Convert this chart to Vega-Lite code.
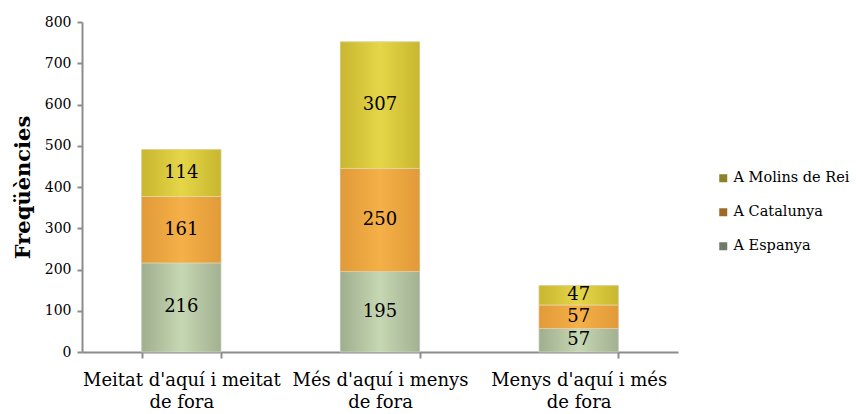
{
  "$schema": "https://vega.github.io/schema/vega-lite/v6.json",
  "width": 596,
  "height": 330,
  "autosize": "none",
  "padding": {"left": 82, "top": 22, "right": 178, "bottom": 62},
  "background": "white",
  "config": {
    "view": {"stroke": null},
    "font": "DejaVu Serif"
  },
  "data": {
    "values": [
      {"cat": "Meitat d'aquí i meitat de fora", "serie": "A Espanya", "v": 216, "ord": 1},
      {"cat": "Meitat d'aquí i meitat de fora", "serie": "A Catalunya", "v": 161, "ord": 2},
      {"cat": "Meitat d'aquí i meitat de fora", "serie": "A Molins de Rei", "v": 114, "ord": 3},
      {"cat": "Més d'aquí i menys de fora", "serie": "A Espanya", "v": 195, "ord": 1},
      {"cat": "Més d'aquí i menys de fora", "serie": "A Catalunya", "v": 250, "ord": 2},
      {"cat": "Més d'aquí i menys de fora", "serie": "A Molins de Rei", "v": 307, "ord": 3},
      {"cat": "Menys d'aquí i més de fora", "serie": "A Espanya", "v": 57, "ord": 1},
      {"cat": "Menys d'aquí i més de fora", "serie": "A Catalunya", "v": 57, "ord": 2},
      {"cat": "Menys d'aquí i més de fora", "serie": "A Molins de Rei", "v": 47, "ord": 3}
    ]
  },
  "transform": [
    {"stack": "v", "groupby": ["cat"], "sort": [{"field": "ord"}], "as": ["y0", "y1"]},
    {"calculate": "(datum.y0 + datum.y1) / 2", "as": "ymid"}
  ],
  "encoding": {
    "x": {
      "field": "cat",
      "type": "nominal",
      "sort": null,
      "scale": {"paddingInner": 0.6, "paddingOuter": 0.3},
      "axis": {
        "title": null,
        "labelAngle": 0,
        "labelLimit": 400,
        "tickBand": "extent",
        "tickSize": 6,
        "tickColor": "#8c8c8c",
        "tickWidth": 2,
        "domainColor": "#8c8c8c",
        "domainWidth": 2,
        "labelFontSize": 18,
        "labelColor": "#000000",
        "labelPadding": 13,
        "labelLineHeight": 22,
        "labelExpr": "split(replace(datum.label, ' de fora', '|de fora'), '|')"
      }
    }
  },
  "layer": [
    {
      "mark": {"type": "bar"},
      "encoding": {
        "y": {
          "field": "y1",
          "type": "quantitative",
          "scale": {"domain": [0, 800]},
          "axis": {
            "title": "Freqüències",
            "titleFontSize": 21,
            "titleFontWeight": "bold",
            "titleColor": "#000000",
            "titlePadding": 11,
            "values": [0, 100, 200, 300, 400, 500, 600, 700, 800],
            "grid": false,
            "tickSize": 5,
            "tickColor": "#8c8c8c",
            "tickWidth": 2,
            "domainColor": "#8c8c8c",
            "domainWidth": 2,
            "labelFontSize": 14,
            "labelColor": "#000000",
            "labelPadding": 6
          }
        },
        "y2": {"field": "y0"},
        "color": {
          "field": "serie",
          "type": "nominal",
          "scale": {
            "domain": ["A Molins de Rei", "A Catalunya", "A Espanya"],
            "range": ["#8c8128", "#9c6a26", "#707b6a"]
          },
          "legend": {
            "title": null,
            "orient": "none",
            "legendX": 634,
            "legendY": 149,
            "symbolType": "square",
            "symbolSize": 64,
            "symbolStrokeWidth": 0,
            "symbolOpacity": 1,
            "labelFontSize": 14.5,
            "labelLimit": 300,
            "labelColor": "#000000",
            "rowPadding": 19,
            "labelOffset": 3
          }
        }
      }
    },
    {
      "transform": [{"filter": "datum.serie == 'A Espanya'"}],
      "mark": {
        "type": "bar",
        "stroke": "#dfe3d8",
        "strokeWidth": 0.6,
        "color": {
          "gradient": "linear", "x1": 0, "y1": 0, "x2": 1, "y2": 0,
          "stops": [
            {"offset": 0, "color": "#9fae8d"},
            {"offset": 0.5, "color": "#c6d7b3"},
            {"offset": 1, "color": "#a2b191"}
          ]
        }
      },
      "encoding": {
        "y": {"field": "y1", "type": "quantitative"},
        "y2": {"field": "y0"}
      }
    },
    {
      "transform": [{"filter": "datum.serie == 'A Catalunya'"}],
      "mark": {
        "type": "bar",
        "stroke": "#e9d8bd",
        "strokeWidth": 0.6,
        "color": {
          "gradient": "linear", "x1": 0, "y1": 0, "x2": 1, "y2": 0,
          "stops": [
            {"offset": 0, "color": "#e19a38"},
            {"offset": 0.5, "color": "#f5b048"},
            {"offset": 1, "color": "#e19a38"}
          ]
        }
      },
      "encoding": {
        "y": {"field": "y1", "type": "quantitative"},
        "y2": {"field": "y0"}
      }
    },
    {
      "transform": [{"filter": "datum.serie == 'A Molins de Rei'"}],
      "mark": {
        "type": "bar",
        "stroke": "#e6e2c4",
        "strokeWidth": 0.6,
        "color": {
          "gradient": "linear", "x1": 0, "y1": 0, "x2": 1, "y2": 0,
          "stops": [
            {"offset": 0, "color": "#c8b72f"},
            {"offset": 0.5, "color": "#e5d548"},
            {"offset": 1, "color": "#c8b72f"}
          ]
        }
      },
      "encoding": {
        "y": {"field": "y1", "type": "quantitative"},
        "y2": {"field": "y0"}
      }
    },
    {
      "mark": {"type": "text", "fontSize": 18, "color": "#000000", "baseline": "middle", "align": "center"},
      "encoding": {
        "y": {"field": "ymid", "type": "quantitative"},
        "text": {"field": "v", "type": "quantitative"}
      }
    }
  ]
}
